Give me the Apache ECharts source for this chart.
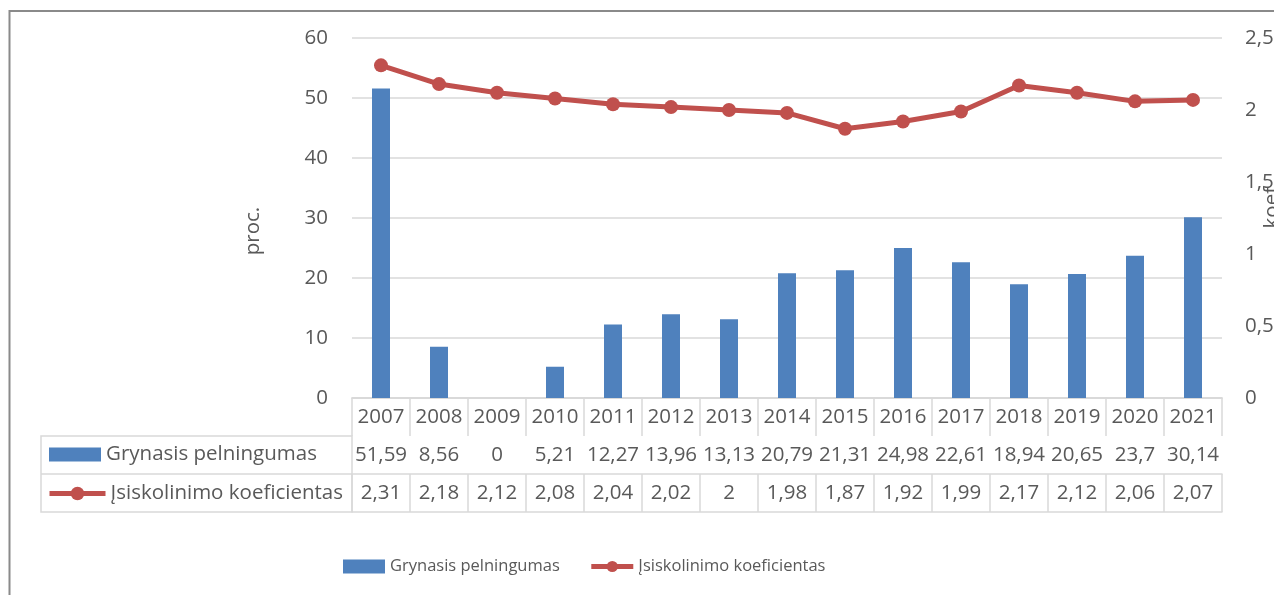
<!DOCTYPE html>
<html>
<head>
<meta charset="utf-8">
<script src="https://cdn.jsdelivr.net/npm/echarts@6/dist/echarts.min.js"></script>
<style>
  html, body { margin: 0; padding: 0; background: #ffffff; }
  #chart { width: 1274px; height: 595px; }
</style>
</head>
<body>
<div id="chart"></div>
<script>
// Annual figures
const years = ['2007', '2008', '2009', '2010', '2011', '2012', '2013', '2014', '2015', '2016', '2017', '2018', '2019', '2020', '2021'];
const netProfitability = [51.59, 8.56, 0, 5.21, 12.27, 13.96, 13.13, 20.79, 21.31, 24.98, 22.61, 18.94, 20.65, 23.7, 30.14];
const debtRatio = [2.31, 2.18, 2.12, 2.08, 2.04, 2.02, 2, 1.98, 1.87, 1.92, 1.99, 2.17, 2.12, 2.06, 2.07];

const seriesNames = ['Grynasis pelningumas', 'Įsiskolinimo koeficientas'];
const leftAxisName = 'proc.';
const rightAxisName = 'koef.';

// Layout
const FONT = "'Open Sans', 'Liberation Sans', sans-serif";
const TEXT = '#595959';
const RULE = '#d9d9d9';
const BAR = '#4F81BD';
const LINE = '#C0504D';
const W = 1274, H = 595;
const plotLeft = 352, plotRight = 1222, plotTop = 38, plotBottom = 398;
const rowH = 38;                 // height of one data-table row
const tableLeft = 41;            // left edge of the row-header column

const comma = v => String(v).replace('.', ',');

const chart = echarts.init(document.getElementById('chart'), null, { renderer: 'canvas' });

// One extra category axis per table row; ticks form the cell dividers
function tableAxis(labels, offset, showLabels) {
  return {
    type: 'category',
    gridIndex: 0,
    position: 'bottom',
    offset: offset,
    data: labels,
    axisLine: { show: true, lineStyle: { color: RULE, width: 1.5 } },
    axisTick: { show: showLabels, length: rowH, interval: 0, lineStyle: { color: RULE, width: 1.5 } },
    axisLabel: {
      show: showLabels, interval: 0, margin: 19, verticalAlign: 'middle',
      color: TEXT, fontFamily: FONT, fontSize: 20.5
    },
    splitLine: { show: false }
  };
}

const legendBase = {
  padding: 0,
  selectedMode: false,
  lineStyle: { width: 5 }
};

const option = {
  backgroundColor: '#ffffff',
  animation: false,
  grid: {
    left: plotLeft, right: W - plotRight, top: plotTop, bottom: H - plotBottom,
    containLabel: false, outerBoundsMode: 'none'
  },
  legend: [
    Object.assign({}, legendBase, {
      data: [{ name: seriesNames[0], icon: 'rect' }, { name: seriesNames[1] }],
      left: 343, top: 558,
      itemWidth: 42, itemHeight: 14, itemGap: 29, itemTextGap: 3,
      textStyle: { color: TEXT, fontFamily: FONT, fontSize: 16.5 }
    }),
    Object.assign({}, legendBase, {
      data: [{ name: seriesNames[0], icon: 'rect' }],
      left: 49, top: 444,
      itemWidth: 52, itemHeight: 14, itemTextGap: 5,
      textStyle: { color: TEXT, fontFamily: FONT, fontSize: 20.5 }
    }),
    Object.assign({}, legendBase, {
      data: [{ name: seriesNames[1] }],
      left: 47, top: 483,
      itemWidth: 56, itemHeight: 17, itemTextGap: 3,
      textStyle: { color: TEXT, fontFamily: FONT, fontSize: 20.5 }
    })
  ],
  xAxis: [
    tableAxis(years, 0, true),
    tableAxis(netProfitability.map(comma), rowH, true),
    tableAxis(debtRatio.map(comma), rowH * 2, true),
    tableAxis(years, rowH * 3, false)
  ],
  yAxis: [
    {
      type: 'value', position: 'left', min: 0, max: 60, interval: 10,
      name: leftAxisName, nameLocation: 'middle', nameGap: 88, nameMoveOverlap: false,
      nameTextStyle: { color: TEXT, fontFamily: FONT, fontSize: 20.5, padding: [0, 26, 0, 0] },
      axisLine: { show: false }, axisTick: { show: false },
      axisLabel: { color: TEXT, fontFamily: FONT, fontSize: 20.5, margin: 24 },
      splitLine: { show: true, lineStyle: { color: RULE, width: 1.5 } }
    },
    {
      type: 'value', position: 'right', min: 0, max: 2.5, interval: 0.5,
      name: rightAxisName, nameLocation: 'middle', nameGap: 40, nameMoveOverlap: false,
      nameTextStyle: { color: TEXT, fontFamily: FONT, fontSize: 20.5, padding: [0, 0, 0, 26] },
      axisLine: { show: false }, axisTick: { show: false },
      axisLabel: { color: TEXT, fontFamily: FONT, fontSize: 20.5, margin: 23, formatter: comma },
      splitLine: { show: false }
    }
  ],
  series: [
    {
      name: seriesNames[0], type: 'bar', xAxisIndex: 0, yAxisIndex: 0,
      data: netProfitability, barWidth: 18,
      itemStyle: { color: BAR }
    },
    {
      name: seriesNames[1], type: 'line', xAxisIndex: 0, yAxisIndex: 1,
      data: debtRatio, symbol: 'circle', symbolSize: 14,
      lineStyle: { color: LINE, width: 5 },
      itemStyle: { color: LINE },
      z: 3
    }
  ],
  graphic: [
    // outer chart frame
    {
      type: 'rect', silent: true,
      shape: { x: 9.5, y: 11, width: 1400, height: 700 },
      style: { fill: 'none', stroke: '#8a8a8a', lineWidth: 2 }
    },
    // row-header column of the data table
    {
      type: 'rect', silent: true,
      shape: { x: tableLeft, y: plotBottom + rowH, width: plotLeft - tableLeft, height: rowH * 2 },
      style: { fill: 'none', stroke: RULE, lineWidth: 1.5 }
    },
    {
      type: 'line', silent: true,
      shape: { x1: tableLeft, y1: plotBottom + rowH * 2, x2: plotLeft, y2: plotBottom + rowH * 2 },
      style: { stroke: RULE, lineWidth: 1.5 }
    }
  ]
};

chart.setOption(option);
</script>
</body>
</html>
